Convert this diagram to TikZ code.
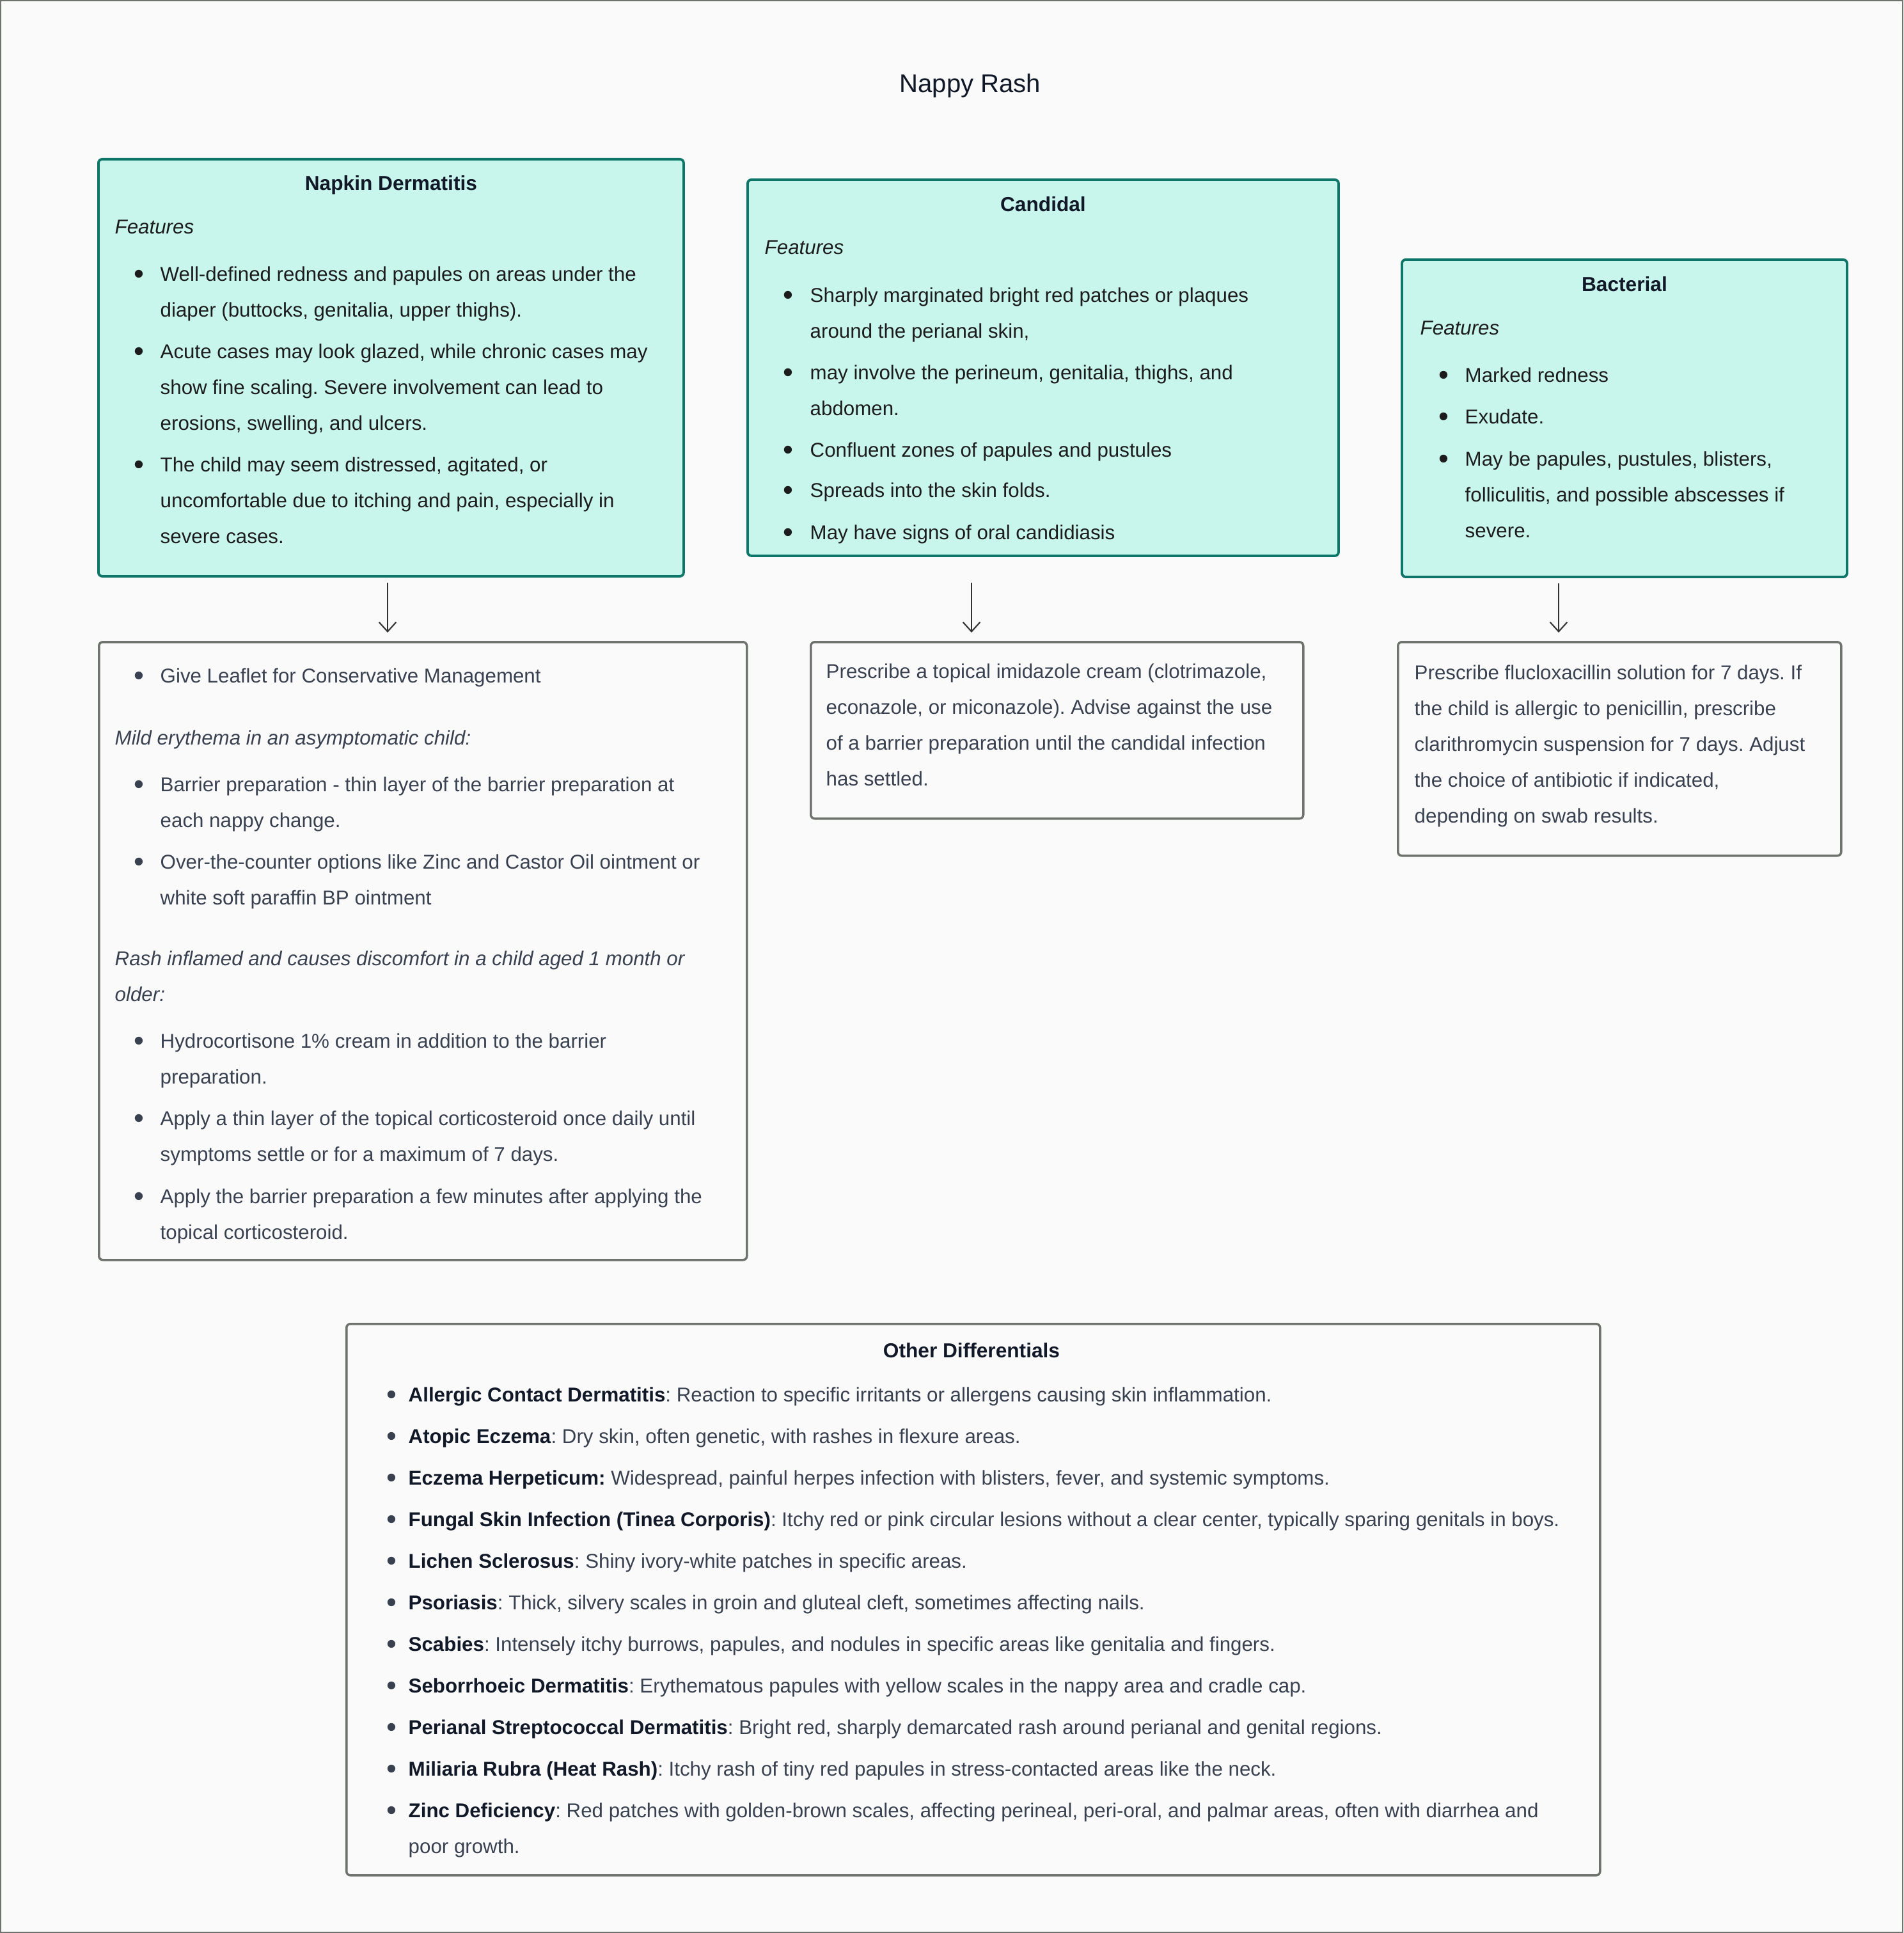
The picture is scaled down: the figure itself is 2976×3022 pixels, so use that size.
\documentclass[tikz,border=0pt]{standalone}
\usepackage{graphicx}
\usepackage{fontspec}
\setmainfont{Liberation Sans}
\usetikzlibrary{arrows.meta}
\definecolor{bg}{HTML}{FAFAFA}
\definecolor{tealfill}{HTML}{C8F5EC}
\definecolor{tealline}{HTML}{0E7569}
\definecolor{greyline}{HTML}{6E736E}
\definecolor{txtdark}{HTML}{1C1C1C}
\definecolor{txtslate}{HTML}{394150}
\definecolor{ttl}{HTML}{111827}
\definecolor{arrowc}{HTML}{333333}
\newdimen\px \px=0.01cm
\frenchspacing
\newcommand\bodyfont{\fontsize{8.9}{15.93}\selectfont\rightskip=0pt plus 1fil\parfillskip=0pt plus 1fil}
\newcommand\bulsym{\raisebox{-0.13em}{\scalebox{1.45}{\textbullet}}}
% #1 vspace before, #2 bullet indent, #3 text indent, #4 text
\newcommand\itm[4]{\par\vspace{#1\px}\noindent\hangindent=#3\px\hangafter=1\hspace*{#2\px}\makebox[\dimexpr#3\px-#2\px\relax][l]{\bulsym}#4}
\newcommand\itmfirst[3]{\noindent\hangindent=#2\px\hangafter=1\hspace*{#1\px}\makebox[\dimexpr#2\px-#1\px\relax][l]{\bulsym}#3}
\newcommand\hd[2]{\par\vspace{#1\px}\noindent #2}
\begin{document}
\begin{tikzpicture}[x=0.01cm,y=-0.01cm,
  tbox/.style={draw=tealline, fill=tealfill, line width=1.1pt, rounded corners=1.7pt, inner sep=0pt, anchor=north west},
  gbox/.style={draw=greyline, fill=bg, line width=1pt, rounded corners=1.7pt, inner sep=0pt, anchor=north west},
  txt/.style={anchor=base west, inner sep=0pt},
  boxtitle/.style={anchor=base, inner sep=0pt, text=ttl, font=\fontsize{9}{11}\selectfont\bfseries},
  arr/.style={draw=arrowc, line width=0.6pt, -{Straight Barb[length=4.2pt,width=7.6pt]}, shorten <=2.3pt, shorten >=3.7pt}
]
\useasboundingbox (0,0) rectangle (2976,3022);
\fill[bg] (0,0) rectangle (2976,3022);
\draw[greyline, line width=0.6pt] (1,1) rectangle (2975,3021);

% title
\node[anchor=base, inner sep=0pt, text=ttl, font=\fontsize{11.4}{13}\selectfont] (title) at (1517,145) {Nappy Rash};

% feature boxes
\node[tbox, minimum width=915\px, minimum height=652\px] (nd) at (152,247) {};
\node[tbox, minimum width=924\px, minimum height=588\px] (cand) at (1167,279) {};
\node[tbox, minimum width=696\px, minimum height=496\px] (bact) at (2190,404) {};

% management boxes
\node[gbox, minimum width=1013\px, minimum height=966\px] (ndm) at (153,1002) {};
\node[gbox, minimum width=770\px, minimum height=276\px] (candm) at (1266,1002) {};
\node[gbox, minimum width=693\px, minimum height=334\px] (bactm) at (2184,1002) {};

% other differentials
\node[gbox, minimum width=1960\px, minimum height=862\px] (od) at (540,2068) {};

% titles
\node[boxtitle] (ndt) at (nd.north |- 0,298) {Napkin Dermatitis};
\node[boxtitle] (candt) at (cand.north |- 0,331) {Candidal};
\node[boxtitle] (bactt) at (bact.north |- 0,456) {Bacterial};
\node[boxtitle] (odt) at (1519,2122) {Other Differentials};

% Napkin dermatitis features
\node[txt, text=txtdark] (ndf) at (179,366) {\parbox[t]{880\px}{\bodyfont
\textit{Features}
\itm{17}{30}{71}{Well-defined redness and papules on areas under the\\diaper (buttocks, genitalia, upper thighs).}
\itm{9}{30}{71}{Acute cases may look glazed, while chronic cases may\\show fine scaling. Severe involvement can lead to\\erosions, swelling, and ulcers.}
\itm{9}{30}{71}{The child may seem distressed, agitated, or\\uncomfortable due to itching and pain, especially in\\severe cases.}
}};

% Candidal features
\node[txt, text=txtdark] (candf) at (1195,398) {\parbox[t]{880\px}{\bodyfont
\textit{Features}
\itm{18}{29}{71}{Sharply marginated bright red patches or plaques\\around the perianal skin,}
\itm{9}{29}{71}{may involve the perineum, genitalia, thighs, and\\abdomen.}
\itm{9}{29}{71}{Confluent zones of papules and pustules}
\itm{7}{29}{71}{Spreads into the skin folds.}
\itm{10}{29}{71}{May have signs of oral candidiasis}
}};

% Bacterial features
\node[txt, text=txtdark] (bactf) at (2220,524) {\parbox[t]{660\px}{\bodyfont
\textit{Features}
\itm{17}{29}{70}{Marked redness}
\itm{9}{29}{70}{Exudate.}
\itm{10}{29}{70}{May be papules, pustules, blisters,\\folliculitis, and possible abscesses if\\severe.}
}};

% Napkin dermatitis management
\node[txt, text=txtslate] (ndmt) at (179,1067) {\parbox[t]{980\px}{\bodyfont
\itmfirst{30}{71}{Give Leaflet for Conservative Management}
\hd{41}{\textit{Mild erythema in an asymptomatic child:}}
\itm{17}{30}{71}{Barrier preparation - thin layer of the barrier preparation at\\each nappy change.}
\itm{9}{30}{71}{Over-the-counter options like Zinc and Castor Oil ointment or\\white soft paraffin BP ointment}
\hd{39}{\textit{Rash inflamed and causes discomfort in a child aged 1 month or\\older:}}
\itm{17}{30}{71}{Hydrocortisone 1\% cream in addition to the barrier\\preparation.}
\itm{9}{30}{71}{Apply a thin layer of the topical corticosteroid once daily until\\symptoms settle or for a maximum of 7 days.}
\itm{10}{30}{71}{Apply the barrier preparation a few minutes after applying the\\topical corticosteroid.}
}};

% Candidal management
\node[txt, text=txtslate] (candmt) at (1291,1060) {\parbox[t]{740\px}{\bodyfont
Prescribe a topical imidazole cream (clotrimazole,\\econazole, or miconazole). Advise against the use\\of a barrier preparation until the candidal infection\\has settled.
}};

% Bacterial management
\node[txt, text=txtslate] (bactmt) at (2211,1062) {\parbox[t]{660\px}{\bodyfont
Prescribe flucloxacillin solution for 7 days. If\\the child is allergic to penicillin, prescribe\\clarithromycin suspension for 7 days. Adjust\\the choice of antibiotic if indicated,\\depending on swab results.
}};

% Other differentials list
\node[txt, text=txtslate] (odl) at (604,2191) {\parbox[t]{1890\px}{\bodyfont
\itmfirst{0}{34}{\textcolor{ttl}{\textbf{Allergic Contact Dermatitis}}: Reaction to specific irritants or allergens causing skin inflammation.}
\itm{9}{0}{34}{\textcolor{ttl}{\textbf{Atopic Eczema}}: Dry skin, often genetic, with rashes in flexure areas.}
\itm{9}{0}{34}{\textcolor{ttl}{\textbf{Eczema Herpeticum:}} Widespread, painful herpes infection with blisters, fever, and systemic symptoms.}
\itm{9}{0}{34}{\textcolor{ttl}{\textbf{Fungal Skin Infection (Tinea Corporis)}}: Itchy red or pink circular lesions without a clear center, typically sparing genitals in boys.}
\itm{9}{0}{34}{\textcolor{ttl}{\textbf{Lichen Sclerosus}}: Shiny ivory-white patches in specific areas.}
\itm{9}{0}{34}{\textcolor{ttl}{\textbf{Psoriasis}}: Thick, silvery scales in groin and gluteal cleft, sometimes affecting nails.}
\itm{9}{0}{34}{\textcolor{ttl}{\textbf{Scabies}}: Intensely itchy burrows, papules, and nodules in specific areas like genitalia and fingers.}
\itm{9}{0}{34}{\textcolor{ttl}{\textbf{Seborrhoeic Dermatitis}}: Erythematous papules with yellow scales in the nappy area and cradle cap.}
\itm{9}{0}{34}{\textcolor{ttl}{\textbf{Perianal Streptococcal Dermatitis}}: Bright red, sharply demarcated rash around perianal and genital regions.}
\itm{9}{0}{34}{\textcolor{ttl}{\textbf{Miliaria Rubra (Heat Rash)}}: Itchy rash of tiny red papules in stress-contacted areas like the neck.}
\itm{9}{0}{34}{\textcolor{ttl}{\textbf{Zinc Deficiency}}: Red patches with golden-brown scales, affecting perineal, peri-oral, and palmar areas, often with diarrhea and\\poor growth.}
}};

% arrows
\coordinate (a1) at (606,0);
\coordinate (a2) at (1519,0);
\coordinate (a3) at (2437,0);
\draw[arr] (a1 |- nd.south) -- (a1 |- ndm.north);
\draw[arr] (a2 |- nd.south) -- (a2 |- candm.north);
\draw[arr] (a3 |- bact.south) -- (a3 |- bactm.north);
\end{tikzpicture}
\end{document}
